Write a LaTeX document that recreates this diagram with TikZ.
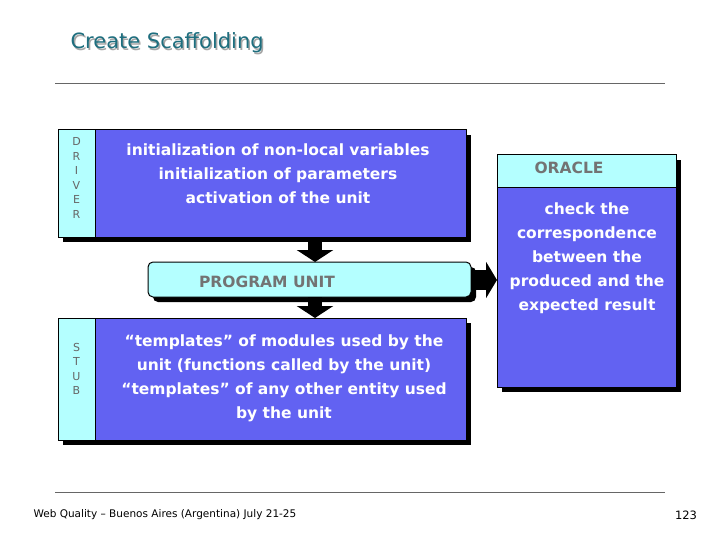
\documentclass[tikz,border=0pt]{standalone}
\usepackage{fontspec}
\setmainfont{DejaVu Sans}
\usetikzlibrary{arrows.meta}
\definecolor{bblue}{HTML}{6262F2}
\definecolor{ccyan}{HTML}{B4FFFF}
\definecolor{ttl}{HTML}{1E6E7E}
\begin{document}
\begin{tikzpicture}[x=1pt,y=-1pt,
  bluebox/.style={draw=black,line width=1pt,fill=bblue},
  cyanbox/.style={draw=black,line width=1pt,fill=ccyan},
  wtxt/.style={text=white,font=\bfseries\fontsize{15.5}{24}\selectfont,align=center},
  gtxt/.style={text=black!55,font=\bfseries\fontsize{15.5}{20}\selectfont},
  vtxt/.style={text=black!60,font=\fontsize{11}{14.5}\selectfont,align=center},
  bigarrow/.style={-{Triangle[length=12pt,width=36pt]},line width=14pt,black}]
\useasboundingbox (0,0) rectangle (720,540);
% title
\node[anchor=west,text=black!35,font=\fontsize{21}{24}\selectfont] at (68.5,44.5) {Create Scaffolding};
\node (title)[anchor=west,text=ttl,font=\fontsize{21}{24}\selectfont] at (67,43) {Create Scaffolding};
\draw[black!60,line width=0.6pt] (55,83) -- (665,83);
\draw[black!60,line width=0.6pt] (55,492) -- (665,492);
% shadows
\fill (63,135) rectangle (471,242);
\fill (63,323) rectangle (471,445);
\fill[rounded corners=5pt] (153,267) rectangle (476,302);
\fill (502,160) rectangle (681,392);
% driver
\draw[cyanbox] (58,130) rectangle (95,237);
\node (drv)[vtxt] at (76.5,178) {D\\R\\I\\V\\E\\R};
\draw[bluebox] (95,130) rectangle (466,237);
\node (drvtxt)[wtxt] at (278,174) {initialization of non-local variables\\initialization of parameters\\activation of the unit};
\coordinate (drvb) at (315,237);
% program unit
\draw[cyanbox,rounded corners=5pt] (148,262) rectangle (471,297);
\node (pu)[gtxt] at (267,282) {PROGRAM UNIT};
\coordinate (put) at (315,262);
\coordinate (pub) at (315,297);
\coordinate (pur) at (471,280);
% stub
\draw[cyanbox] (58,318) rectangle (95,440);
\node (stb)[vtxt] at (76.5,369) {S\\T\\U\\B};
\draw[bluebox] (95,318) rectangle (466,440);
\node (stbtxt)[wtxt] at (284,378) {“templates” of modules used by the\\unit (functions called by the unit)\\“templates” of any other entity used\\by the unit};
\coordinate (stbt) at (315,318);
% oracle
\draw[bluebox] (497,155) rectangle (676,387);
\draw[cyanbox] (497,155) rectangle (676,188);
\node (orc)[gtxt] at (569,168) {ORACLE};
\node (orctxt)[wtxt] at (587,258) {check the\\correspondence\\between the\\produced and the\\expected result};
\coordinate (orcl) at (497,280);
% arrows
\draw[bigarrow] (drvb) -- (put);
\draw[bigarrow] (pub) -- (stbt);
\draw[-{Triangle[length=11pt,width=36pt]},line width=20pt] (pur) -- (orcl);
% footer
\node (foot)[anchor=west,font=\fontsize{10.5}{12}\selectfont] at (30,515) {Web Quality – Buenos Aires (Argentina) July 21-25};
\node (pg)[font=\fontsize{11.5}{12}\selectfont] at (686,515) {123};
\end{tikzpicture}
\end{document}
